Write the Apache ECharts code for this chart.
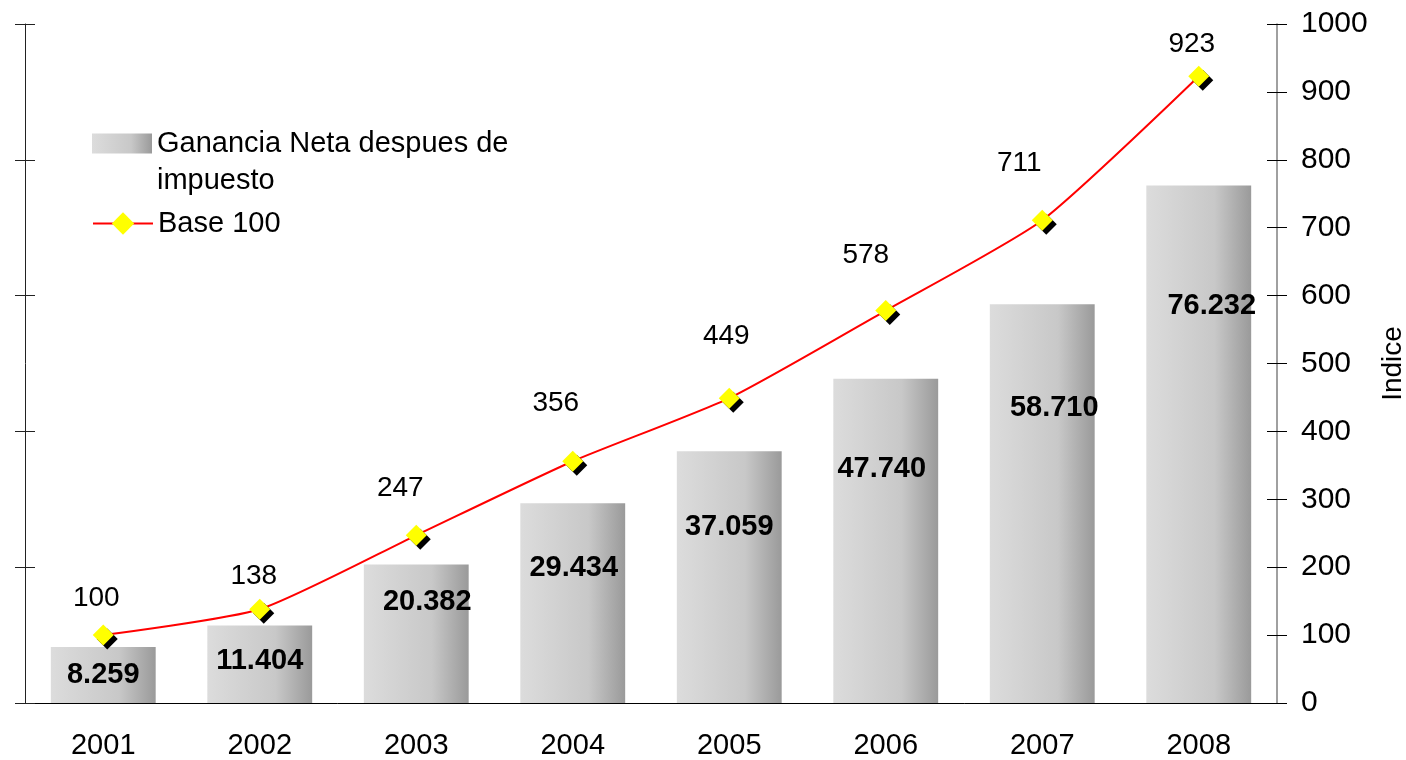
<!DOCTYPE html>
<html>
<head>
<meta charset="utf-8">
<title>Ganancia Neta despues de impuesto</title>
<script src="https://cdn.jsdelivr.net/npm/echarts@6.0.0/dist/echarts.min.js"></script>
<style>
  html, body { margin: 0; padding: 0; background: #fff; }
  #chart { width: 1406px; height: 760px; }
</style>
</head>
<body>
<div id="chart"></div>
<script>
const years = ['2001', '2002', '2003', '2004', '2005', '2006', '2007', '2008']
const ganancia = [8259, 11404, 20382, 29434, 37059, 47740, 58710, 76232]
const base100 = [100, 138, 247, 356, 449, 578, 711, 923]
const barName = 'Ganancia Neta despues de\nimpuesto'
const lineName = 'Base 100'

// where the labels sit in the original (px from bar top / from point)
const barLabelTop = [28, 35, 37, 65, 76, 90, 104, 121]
const barLabelDx = [0, 0, 11, 1, 0, -4, 12, 13]
const lineLabelDx = [-7, -6, -16, -17, -3, -20, -23, -7]
const lineLabelDy = [-37, -33, -47, -58, -62, -55, -57, -32]

const FONT = 'Liberation Sans, Arial, sans-serif'

const fmtMiles = (v) => String(v).replace(/\B(?=(\d{3})+(?!\d))/g, '.')

const barColor = new echarts.graphic.LinearGradient(0, 0, 1, 0, [
  { offset: 0, color: '#dcdcdc' },
  { offset: 0.65, color: '#c8c8c8' },
  { offset: 1, color: '#9a9a9a' }
])

const chart = echarts.init(document.getElementById('chart'), null, { renderer: 'canvas' })

chart.setOption({
  animation: false,
  backgroundColor: '#fff',
  textStyle: { fontFamily: FONT },
  grid: { left: 25, right: 129, top: 24, bottom: 57, outerBoundsMode: 'none', containLabel: false },
  legend: [
    {
      data: [barName],
      orient: 'vertical',
      left: 92,
      top: 88,
      padding: 0,
      icon: 'rect',
      itemWidth: 60,
      itemHeight: 20,
      selectedMode: false,
      // empty first line so the icon lines up with the first row of text
      formatter: (name) => '\n' + name,
      textStyle: { fontSize: 29, lineHeight: 37, color: '#000', fontFamily: FONT }
    },
    {
      data: [lineName],
      orient: 'vertical',
      left: 92,
      top: 205,
      padding: 0,
      itemWidth: 60,
      itemHeight: 28,
      selectedMode: false,
      textStyle: { fontSize: 29, lineHeight: 37, color: '#000', fontFamily: FONT }
    }
  ],
  xAxis: [
    {
      type: 'category',
      data: years,
      axisLine: { lineStyle: { color: '#000', width: 1 } },
      axisTick: { length: 10, lineStyle: { color: '#000' } },
      axisLabel: { fontSize: 29, color: '#000', margin: 28, fontFamily: FONT },
      splitLine: { show: false }
    },
    {
      // inner half of the crossing ticks
      type: 'category',
      data: years,
      position: 'bottom',
      axisLine: { show: false },
      axisTick: { inside: true, length: 10, lineStyle: { color: '#000' } },
      axisLabel: { show: false },
      splitLine: { show: false }
    }
  ],
  yAxis: [
    {
      type: 'value',
      position: 'left',
      min: 0,
      max: 100000,
      interval: 20000,
      axisLine: { show: true, lineStyle: { color: '#222' } },
      axisTick: { show: true, length: 10, lineStyle: { color: '#222' } },
      axisLabel: { show: false },
      splitLine: { show: false }
    },
    {
      type: 'value',
      position: 'right',
      min: 0,
      max: 1000,
      interval: 100,
      name: 'Indice',
      nameLocation: 'middle',
      nameRotate: 90,
      nameGap: 102,
      nameTextStyle: { fontSize: 28, color: '#000', fontFamily: FONT },
      axisLine: { show: true, lineStyle: { color: '#808080', width: 1.5 } },
      axisTick: { show: true, length: 10, lineStyle: { color: '#000' } },
      axisLabel: { fontSize: 30, color: '#000', margin: 24, fontFamily: FONT, formatter: (v) => String(v) },
      splitLine: { show: false }
    },
    {
      type: 'value',
      position: 'left',
      min: 0,
      max: 100000,
      interval: 20000,
      axisLine: { show: false },
      axisTick: { show: true, inside: true, length: 10, lineStyle: { color: '#222' } },
      axisLabel: { show: false },
      splitLine: { show: false }
    },
    {
      type: 'value',
      position: 'right',
      min: 0,
      max: 1000,
      interval: 100,
      axisLine: { show: false },
      axisTick: { show: true, inside: true, length: 10, lineStyle: { color: '#000' } },
      axisLabel: { show: false },
      splitLine: { show: false }
    }
  ],
  series: [
    {
      name: barName,
      type: 'bar',
      yAxisIndex: 0,
      barWidth: '67%',
      itemStyle: { color: barColor },
      label: {
        show: true,
        align: 'center',
        verticalAlign: 'middle',
        fontSize: 29,
        fontWeight: 'bold',
        color: '#000',
        fontFamily: FONT,
        formatter: (p) => fmtMiles(p.value)
      },
      data: ganancia.map((v, i) => ({
        value: v,
        label: { position: ['50%', barLabelTop[i]], offset: [barLabelDx[i], 0] }
      }))
    },
    {
      name: lineName,
      type: 'line',
      yAxisIndex: 1,
      smooth: 0.2,
      symbol: 'diamond',
      symbolSize: 21,
      z: 5,
      lineStyle: { color: '#ff0000', width: 2 },
      itemStyle: {
        color: '#ffff00',
        shadowColor: '#000',
        shadowBlur: 0,
        shadowOffsetX: 4,
        shadowOffsetY: 4
      },
      label: {
        show: true,
        position: 'inside',
        fontSize: 28,
        color: '#000',
        fontFamily: FONT
      },
      data: base100.map((v, i) => ({
        value: v,
        label: { offset: [lineLabelDx[i], lineLabelDy[i]] }
      }))
    }
  ]
})
</script>
</body>
</html>
